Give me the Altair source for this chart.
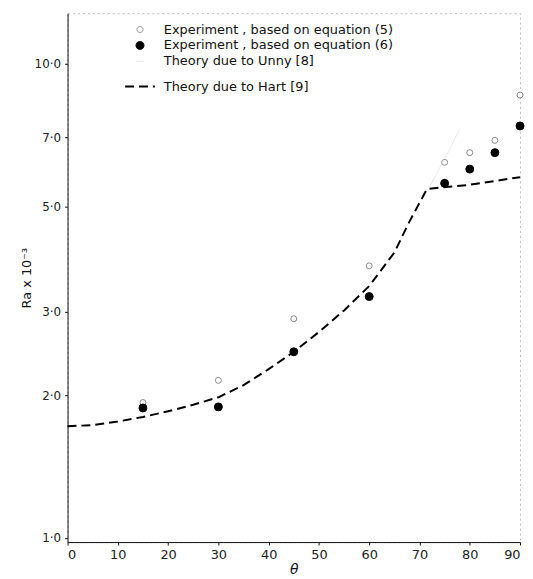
import altair as alt
import pandas as pd

# ---- data ----
theta_exp = [15, 30, 45, 60, 75, 80, 85, 90]
ra_eq5 = [1.93, 2.15, 2.90, 3.75, 6.2, 6.5, 6.9, 8.6]
ra_eq6 = [1.88, 1.89, 2.47, 3.23, 5.6, 6.0, 6.5, 7.4]

theta_hart = [0, 5, 10, 15, 20, 25, 30, 35, 40, 45, 50, 55, 60, 65, 68, 71.5, 80, 90]
ra_hart = [1.72, 1.73, 1.76, 1.80, 1.85, 1.91, 1.98, 2.10, 2.27, 2.47, 2.72, 3.02,
           3.40, 4.0, 4.65, 5.45, 5.56, 5.77]

theta_unny = [72, 76, 78]
ra_unny = [5.5, 6.6, 7.3]

x_ticks = [0, 10, 20, 30, 40, 50, 60, 70, 80, 90]
y_ticks = [1, 2, 3, 5, 7, 10]

S5 = "Experiment ,  based on equation (5)"
S6 = "Experiment ,  based on equation (6)"
SU = "Theory due to Unny [8]"
SH = "Theory due to Hart [9]"
series = [S5, S6, SU, SH]

pts = pd.DataFrame({
    "theta": theta_exp + theta_exp,
    "ra": ra_eq5 + ra_eq6,
    "series": [S5] * len(theta_exp) + [S6] * len(theta_exp),
})
lines = pd.DataFrame({
    "theta": theta_unny + theta_hart,
    "ra": ra_unny + ra_hart,
    "series": [SU] * len(theta_unny) + [SH] * len(theta_hart),
})

FONT = "DejaVu Sans"

x_enc = alt.X("theta:Q", scale=alt.Scale(domain=[0, 90], nice=False),
              axis=alt.Axis(values=x_ticks, title="θ", titleFontStyle="italic",
                            titleFontWeight="normal", titleFontSize=14,
                            titlePadding=1, labelPadding=4))
y_enc = alt.Y("ra:Q", scale=alt.Scale(type="log", domain=[0.98, 12.8], nice=False),
              axis=alt.Axis(values=y_ticks, title="Ra  x 10⁻³",
                            labelExpr="replace(format(datum.value, '.1f'), '.', '·')",
                            titleFontWeight="normal", titleFontSize=13,
                            titlePadding=1, labelPadding=4, labelFontSize=12))

dom = series
fill_enc = alt.Fill("series:N", scale=alt.Scale(domain=dom, range=["white", "black", "white", "white"]),
                    legend=alt.Legend(title=None))
stroke_enc = alt.Stroke("series:N", scale=alt.Scale(domain=dom, range=["#888888", "black", "#e4e4e4", "black"]),
                        legend=alt.Legend(title=None))
shape_enc = alt.Shape("series:N", scale=alt.Scale(domain=dom, range=["circle", "circle", "stroke", "stroke"]),
                      legend=alt.Legend(title=None))
size_enc = alt.Size("series:N", scale=alt.Scale(type="ordinal", domain=dom, range=[36, 64, 64, 900]),
                    legend=alt.Legend(title=None))
dash_enc = alt.StrokeDash("series:N", scale=alt.Scale(domain=dom, range=[[1, 0], [1, 0], [1, 0], [9, 5]]),
                          legend=alt.Legend(title=None))
sw_enc = alt.StrokeWidth("series:N", scale=alt.Scale(type="ordinal", domain=dom, range=[1, 1, 1, 2]),
                         legend=alt.Legend(title=None))

point_layer = alt.Chart(pts).mark_point(filled=True, opacity=1).encode(
    x=x_enc, y=y_enc, fill=fill_enc, stroke=stroke_enc, shape=shape_enc,
    size=size_enc, strokeWidth=sw_enc,
)

line_layer = alt.Chart(lines).mark_line().encode(
    x=x_enc, y=y_enc, stroke=stroke_enc, strokeDash=dash_enc, strokeWidth=sw_enc,
    detail="series:N",
)

chart = alt.layer(line_layer, point_layer).properties(
    width=456, height=533,
    autosize=alt.AutoSizeParams(type="none"),
    padding={"left": 60, "top": 3, "right": 5, "bottom": 34},
).configure_view(
    stroke="#bbbbbb", strokeWidth=1, strokeDash=[2, 3],
).configure_axis(
    grid=False, domainColor="#111111", domainWidth=1, tickColor="#111111",
    tickSize=3, labelFont=FONT, labelFontSize=13, labelColor="#222222",
    titleFont=FONT, titleColor="#111111",
).configure_legend(
    orient="none", legendX=57, legendY=10, padding=0,
    labelFont=FONT, labelFontSize=13, labelColor="#111111", labelLimit=420,
    labelOffset=8, rowPadding=2, symbolStrokeWidth=1,
)

chart.save("out.html", embed_options={"renderer": "svg", "actions": False})
